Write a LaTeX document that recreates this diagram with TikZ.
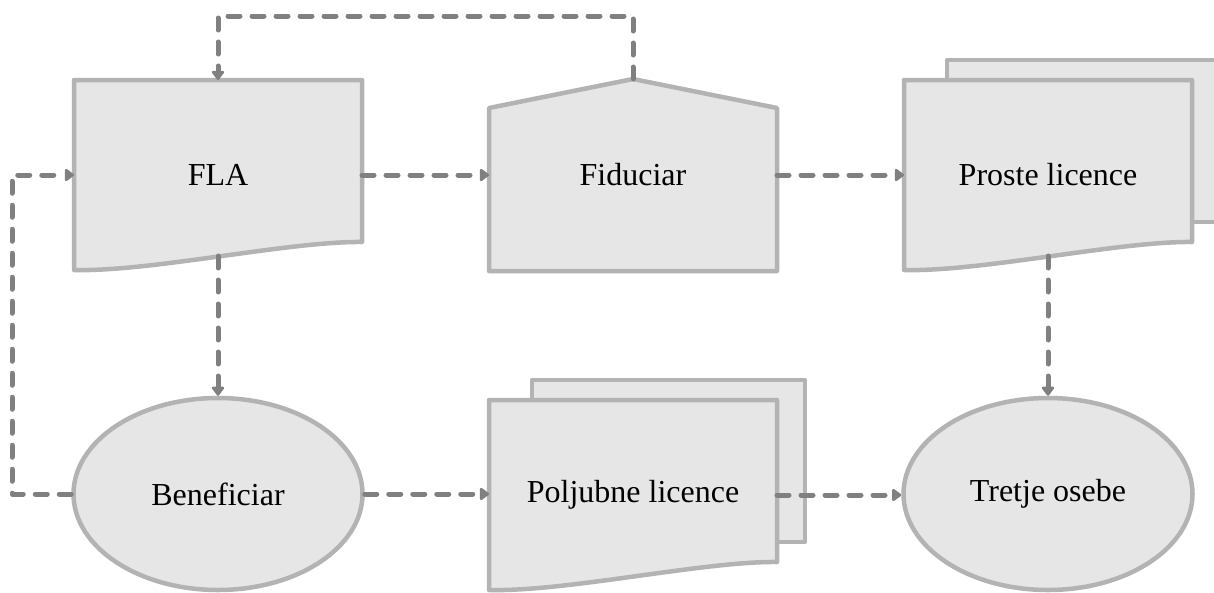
\documentclass[tikz,border=0pt]{standalone}
\usepackage{fontspec}
\setmainfont{Liberation Serif}
\usetikzlibrary{arrows.meta,shapes.geometric,backgrounds,calc}

\definecolor{boxfill}{HTML}{E6E6E6}
\definecolor{boxline}{HTML}{B3B3B3}
\definecolor{flowline}{HTML}{808080}

\tikzset{
  box/.style={fill=boxfill, draw=boxline, line width=4.5pt, line join=round},
  txt/.style={inner sep=0pt, outer sep=0pt, minimum width=288pt, minimum height=190pt,
              font=\fontsize{32}{38}\selectfont},
  oval/.style={ellipse, box, inner sep=0pt, minimum width=289pt, minimum height=192pt,
               font=\fontsize{32}{38}\selectfont},
  flow/.style={draw=flowline, line width=5pt, line cap=round, line join=round,
               dash pattern=on 12pt off 12pt,
               -{Triangle[length=10pt,width=14pt,round]}},
}

% document outline: flat top, wavy bottom (28pt rise on the right)
\newcommand{\docpath}[1]{%
  (#1.north west) -- (#1.north east) -- ([yshift=28pt]#1.south east)
  .. controls ([xshift=-72pt,yshift=29pt]#1.south east)
  and ([xshift=76pt,yshift=-2pt]#1.south west) .. (#1.south west) -- cycle}
% second sheet behind a document
\newcommand{\sheetpath}[1]{%
  ([xshift=43pt,yshift=20pt]#1.north west) rectangle ([xshift=28pt,yshift=48pt]#1.south east)}

\begin{document}
\begin{tikzpicture}[x=1pt, y=-1pt]
  \useasboundingbox (0,0) rectangle (1214,592);

  % labels (the outlines are drawn behind them)
  \node[txt] (fla) at (218,175) {FLA};
  \node[txt, minimum height=192pt] (fid) at (633,175) {Fiduciar};
  \node[txt] (pro) at (1048,175) {Proste licence};
  \node[txt] (pol) at (633,495) {Poljubne licence};

  \node[oval] (ben) at (218,494) {Beneficiar};
  \node[oval] (tre) at (1048,494) {Tretje osebe};

  \begin{scope}[on background layer]
    \path[box] \docpath{fla};
    \path[box] (fid.south west) -- ([yshift=-29pt]fid.north west) -- (fid.north)
               -- ([yshift=-29pt]fid.north east) -- (fid.south east) -- cycle;
    \path[box] \sheetpath{pro};
    \path[box] \docpath{pro};
    \path[box] \sheetpath{pol};
    \path[box] \docpath{pol};
  \end{scope}

  % connector waypoints
  \coordinate (flaB) at (218,256);
  \coordinate (proB) at (1048,256);
  \coordinate (topway) at (218,16);
  \coordinate (leftway) at (12,494);

  % connectors
  \draw[flow] (fla.east) -- (fla.east -| fid.west);
  \draw[flow] (fid.east) -- (pro.west);
  \draw[flow] (fid.north) |- (topway) -- (fla.north);
  \draw[flow] (flaB) -- (ben.north);
  \draw[flow] (ben.west) -- (leftway) |- (fla.west);
  \draw[flow] (ben.east) -- (ben.east -| pol.west);
  \draw[flow] (pol.east) -- (pol.east -| tre.west);
  \draw[flow] (proB) -- (tre.north);
\end{tikzpicture}
\end{document}
